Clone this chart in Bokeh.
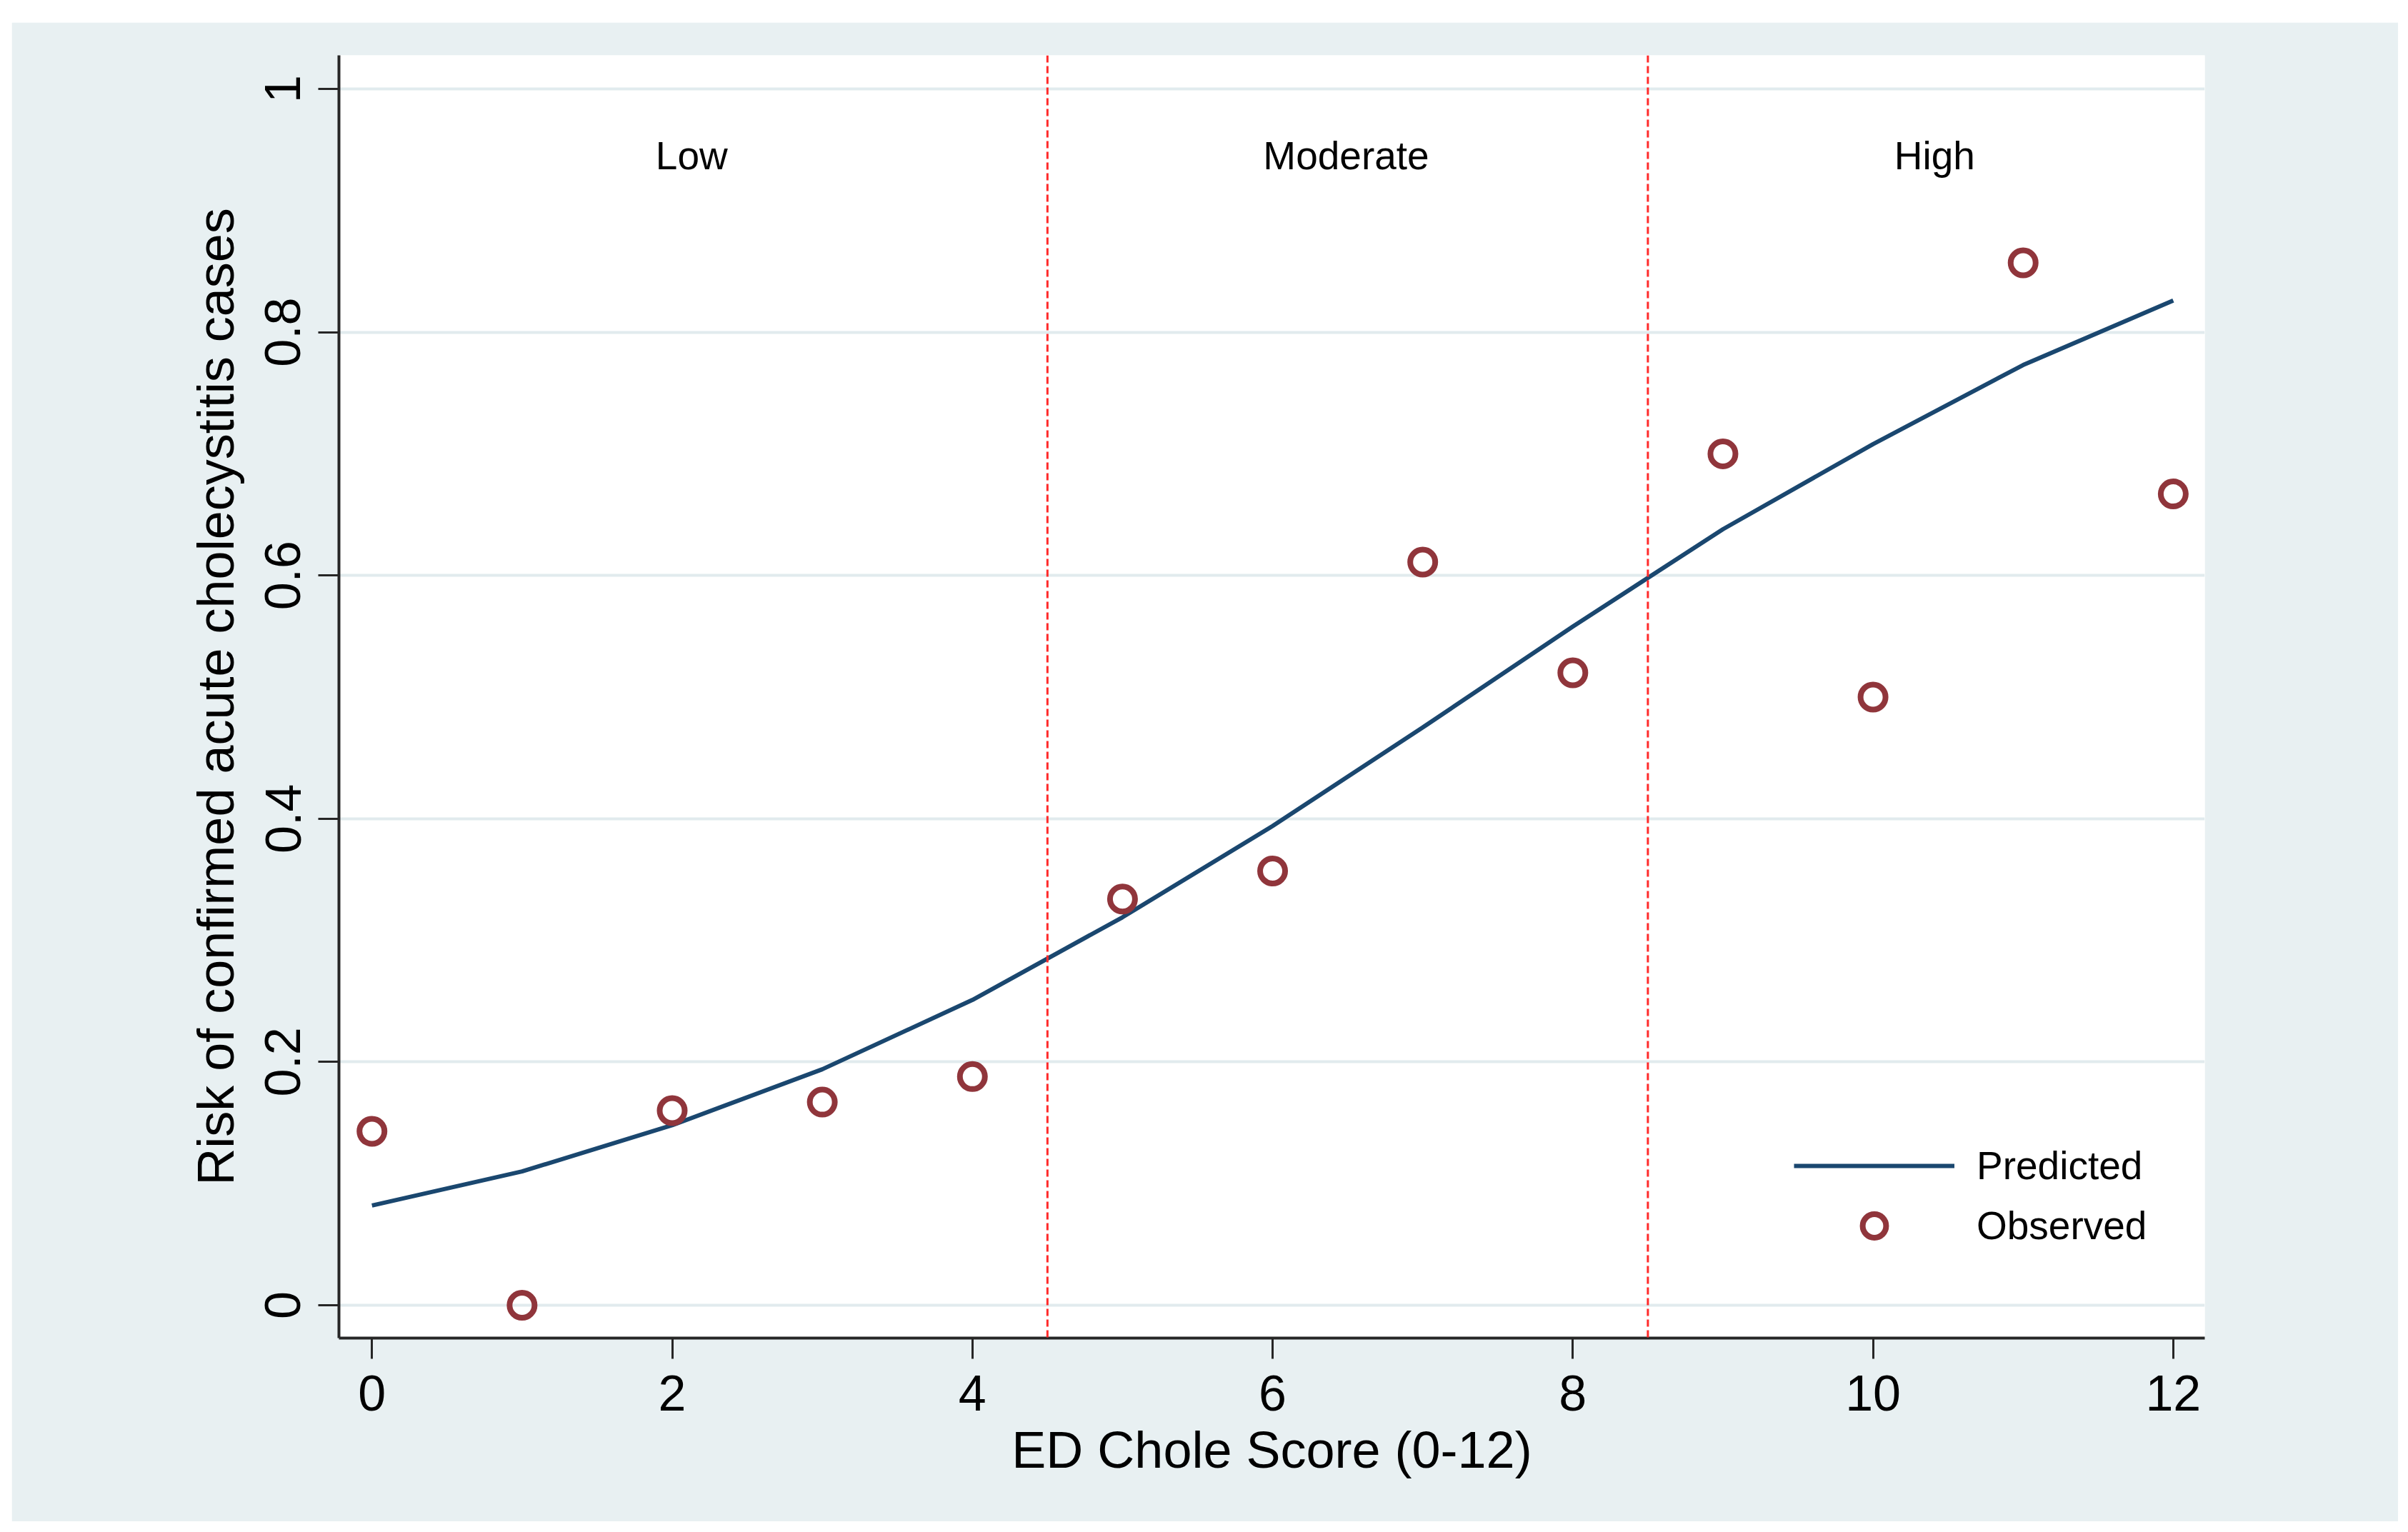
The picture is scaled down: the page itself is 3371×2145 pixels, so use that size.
from bokeh.plotting import figure
from bokeh.models import Range1d, FixedTicker, Span, Legend, LegendItem, Label
from bokeh.embed import file_html
from bokeh.resources import INLINE

# ED Chole Score and risk of confirmed acute cholecystitis
scores = [0, 1, 2, 3, 4, 5, 6, 7, 8, 9, 10, 11, 12]
observed = [0.143, 0.0, 0.160, 0.167, 0.188, 0.334, 0.357, 0.611, 0.520, 0.700, 0.500, 0.857, 0.667]
predicted = [0.082, 0.110, 0.148, 0.194, 0.251, 0.319, 0.394, 0.475, 0.558, 0.638, 0.708, 0.773, 0.826]

# risk-group cut points and their labels
cutoffs = [4.5, 8.5]
group_names = ["Low", "Moderate", "High"]
group_x = [2.13, 6.49, 10.41]
group_y = 0.945

x_ticks = [0, 2, 4, 6, 8, 10, 12]
y_ticks = [0, 0.2, 0.4, 0.6, 0.8, 1]
y_tick_labels = ["0", "0.2", "0.4", "0.6", "0.8", "1"]

FONT = "Liberation Sans"
PANEL = "#e8f0f2"
NAVY = "#1a476f"
MAROON = "#90353b"

p = figure(
    width=3341, height=2099,
    margin=(31, 14, 15, 16),
    x_range=Range1d(-0.22, 12.21),
    y_range=Range1d(-0.027, 1.0276),
    output_backend="svg",
    toolbar_location=None,
    min_border_left=458, min_border_right=271,
    min_border_top=46, min_border_bottom=257,
)
p.background_fill_color = "white"
p.border_fill_color = PANEL
p.outline_line_color = None

# grid: horizontal only
p.xgrid.visible = False
p.ygrid.ticker = FixedTicker(ticks=y_ticks)
p.ygrid.grid_line_color = "#e1ebee"
p.ygrid.grid_line_width = 4

# axes
for ax in (p.xaxis[0], p.yaxis[0]):
    ax.axis_line_color = "#262626"
    ax.axis_line_width = 4
    ax.major_tick_line_color = "#262626"
    ax.major_tick_line_width = 3
    ax.major_tick_out = 29
    ax.major_tick_in = 0
    ax.minor_tick_line_color = None
    ax.major_label_text_font = FONT
    ax.major_label_text_font_size = "70px"
    ax.major_label_text_color = "black"
    ax.axis_label_text_font = FONT
    ax.axis_label_text_font_size = "72px"
    ax.axis_label_text_font_style = "normal"
    ax.axis_label_text_color = "black"

p.xaxis.ticker = FixedTicker(ticks=x_ticks)
p.xaxis.axis_label = "ED Chole Score (0-12)"
p.xaxis.major_label_standoff = 23
p.xaxis.axis_label_standoff = 12

p.yaxis.ticker = FixedTicker(ticks=y_ticks)
p.yaxis.major_label_overrides = {t: s for t, s in zip(y_ticks, y_tick_labels)}
p.yaxis.major_label_orientation = "vertical"
p.yaxis.axis_label = "Risk of confirmed acute cholecystitis cases"
p.yaxis.major_label_standoff = 25
p.yaxis.axis_label_standoff = 27

# cut-point reference lines
for c in cutoffs:
    p.add_layout(Span(location=c, dimension="height", line_color="#ff2a2a",
                      line_width=3, line_dash="10 5"))

# risk-group labels
for name, gx in zip(group_names, group_x):
    p.add_layout(Label(x=gx, y=group_y, text=name, text_align="center",
                       text_baseline="alphabetic", text_font=FONT,
                       text_font_size="55px", text_color="black"))

pred_r = p.line(scores, predicted, line_color=NAVY, line_width=6)
obs_r = p.scatter(scores, observed, marker="circle", size=35,
                  fill_color=None, line_color=MAROON, line_width=8)

legend = Legend(
    items=[LegendItem(label="Predicted", renderers=[pred_r]),
           LegendItem(label="Observed", renderers=[obs_r])],
    location=(2037, 116),
    orientation="vertical",
    glyph_width=225, glyph_height=82,
    spacing=2, padding=0, margin=0,
    label_standoff=31,
    label_text_font=FONT, label_text_font_size="55px",
    label_text_color="black",
    background_fill_alpha=0, border_line_alpha=0,
)
p.add_layout(legend)

open("out.html", "w").write(file_html(p, INLINE))
